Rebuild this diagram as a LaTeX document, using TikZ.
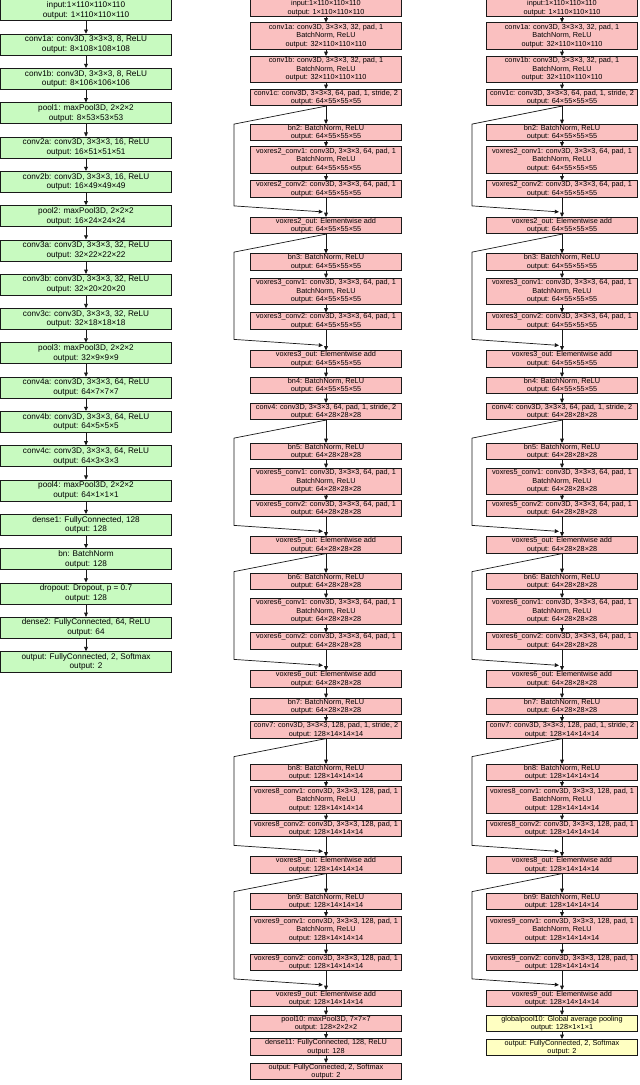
\documentclass[tikz,border=0pt]{standalone}
\usepackage{fontspec}
\setmainfont{Liberation Sans}
\usetikzlibrary{arrows.meta,calc}
\definecolor{gfill}{RGB}{200,250,192}
\definecolor{pfill}{RGB}{250,192,192}
\definecolor{yfill}{RGB}{255,255,194}
\tikzset{
  box/.style={draw=black!90, line width=0.7pt, align=center, inner sep=0pt},
  lbox/.style={box, fill=gfill, minimum width=171pt, minimum height=21pt, font=\fontsize{8.2}{9.7}\selectfont},
  pbox/.style={box, fill=pfill, minimum width=151pt, minimum height=16.5pt, font=\fontsize{7.3}{8.4}\selectfont},
  pboxiii/.style={pbox, minimum height=26.5pt},
  ybox/.style={pbox, fill=yfill},
  arr/.style={-{Triangle[length=4.2pt,width=3.8pt]}, line width=0.7pt, black!90},
}
\newcommand{\skipcon}[3]{%
  \draw[arr] (#1-#2.south) -- ($(#1-#2.south -| #1-sk)+(0,18)$) -- ($(#1-#3.north -| #1-sk)+(0,-11)$) -- ($(#1-#3.north)+(-3,-5)$);}
\newcommand{\resnetcol}[3]{%
  \coordinate (#1-sk) at (#3,0);
  \node[pbox]    (#1-0)  at (#2,8)     {input:1×110×110×110\\output: 1×110×110×110};
  \node[pboxiii] (#1-1)  at (#2,36)    {conv1a: conv3D, 3×3×3, 32, pad, 1\\BatchNorm, ReLU\\output: 32×110×110×110};
  \node[pboxiii] (#1-2)  at (#2,69.5)  {conv1b: conv3D, 3×3×3, 32, pad, 1\\BatchNorm, ReLU\\output: 32×110×110×110};
  \node[pbox]    (#1-3)  at (#2,97.5)  {conv1c: conv3D, 3×3×3, 64, pad, 1, stride, 2\\output: 64×55×55×55};
  \node[pbox]    (#1-4)  at (#2,132.5) {bn2: BatchNorm, ReLU\\output: 64×55×55×55};
  \node[pboxiii] (#1-5)  at (#2,160)   {voxres2\_conv1: conv3D, 3×3×3, 64, pad, 1\\BatchNorm, ReLU\\output: 64×55×55×55};
  \node[pbox]    (#1-6)  at (#2,189)   {voxres2\_conv2: conv3D, 3×3×3, 64, pad, 1\\output: 64×55×55×55};
  \node[pbox]    (#1-7)  at (#2,225.5) {voxres2\_out: Elementwise add\\output: 64×55×55×55};
  \node[pbox]    (#1-8)  at (#2,262)   {bn3: BatchNorm, ReLU\\output: 64×55×55×55};
  \node[pboxiii] (#1-9)  at (#2,291.5) {voxres3\_conv1: conv3D, 3×3×3, 64, pad, 1\\BatchNorm, ReLU\\output: 64×55×55×55};
  \node[pbox]    (#1-10) at (#2,321)   {voxres3\_conv2: conv3D, 3×3×3, 64, pad, 1\\output: 64×55×55×55};
  \node[pbox]    (#1-11) at (#2,359)   {voxres3\_out: Elementwise add\\output: 64×55×55×55};
  \node[pbox]    (#1-12) at (#2,385.5) {bn4: BatchNorm, ReLU\\output: 64×55×55×55};
  \node[pbox]    (#1-13) at (#2,411.5) {conv4: conv3D, 3×3×3, 64, pad, 1, stride, 2\\output: 64×28×28×28};
  \node[pbox]    (#1-14) at (#2,451.5) {bn5: BatchNorm, ReLU\\output: 64×28×28×28};
  \node[pboxiii] (#1-15) at (#2,481.5) {voxres5\_conv1: conv3D, 3×3×3, 64, pad, 1\\BatchNorm, ReLU\\output: 64×28×28×28};
  \node[pbox]    (#1-16) at (#2,508.5) {voxres5\_conv2: conv3D, 3×3×3, 64, pad, 1\\output: 64×28×28×28};
  \node[pbox]    (#1-17) at (#2,545)   {voxres5\_out: Elementwise add\\output: 64×28×28×28};
  \node[pbox]    (#1-18) at (#2,581.5) {bn6: BatchNorm, ReLU\\output: 64×28×28×28};
  \node[pboxiii] (#1-19) at (#2,611.5) {voxres6\_conv1: conv3D, 3×3×3, 64, pad, 1\\BatchNorm, ReLU\\output: 64×28×28×28};
  \node[pbox]    (#1-20) at (#2,641)   {voxres6\_conv2: conv3D, 3×3×3, 64, pad, 1\\output: 64×28×28×28};
  \node[pbox]    (#1-21) at (#2,679)   {voxres6\_out: Elementwise add\\output: 64×28×28×28};
  \node[pbox]    (#1-22) at (#2,706.5) {bn7: BatchNorm, ReLU\\output: 64×28×28×28};
  \node[pbox]    (#1-23) at (#2,730)   {conv7: conv3D, 3×3×3, 128, pad, 1, stride, 2\\output: 128×14×14×14};
  \node[pbox]    (#1-24) at (#2,772.5) {bn8: BatchNorm, ReLU\\output: 128×14×14×14};
  \node[pboxiii] (#1-25) at (#2,800)   {voxres8\_conv1: conv3D, 3×3×3, 128, pad, 1\\BatchNorm, ReLU\\output: 128×14×14×14};
  \node[pbox]    (#1-26) at (#2,828.5) {voxres8\_conv2: conv3D, 3×3×3, 128, pad, 1\\output: 128×14×14×14};
  \node[pbox]    (#1-27) at (#2,865)   {voxres8\_out: Elementwise add\\output: 128×14×14×14};
  \node[pbox]    (#1-28) at (#2,901.5) {bn9: BatchNorm, ReLU\\output: 128×14×14×14};
  \node[pboxiii] (#1-29) at (#2,930)   {voxres9\_conv1: conv3D, 3×3×3, 128, pad, 1\\BatchNorm, ReLU\\output: 128×14×14×14};
  \node[pbox]    (#1-30) at (#2,962.5) {voxres9\_conv2: conv3D, 3×3×3, 128, pad, 1\\output: 128×14×14×14};
  \node[pbox]    (#1-31) at (#2,998.5) {voxres9\_out: Elementwise add\\output: 128×14×14×14};
  \foreach \a [evaluate=\a as \b using int(\a+1)] in {0,...,30}
    \draw[arr] (#1-\a.south) -- (#1-\b.north);
  \skipcon{#1}{3}{7}
  \skipcon{#1}{7}{11}
  \skipcon{#1}{13}{17}
  \skipcon{#1}{17}{21}
  \skipcon{#1}{23}{27}
  \skipcon{#1}{27}{31}
}
\begin{document}
\begin{tikzpicture}[x=1pt,y=-1pt]
\useasboundingbox (0,0) rectangle (640,1085);
% left column
\node[lbox] (l0)  at (86,10.3)  {input:1×110×110×110\\output: 1×110×110×110};
\node[lbox] (l1)  at (86,44.6)  {conv1a: conv3D, 3×3×3, 8, ReLU\\output: 8×108×108×108};
\node[lbox] (l2)  at (86,78.9)  {conv1b: conv3D, 3×3×3, 8, ReLU\\output: 8×106×106×106};
\node[lbox] (l3)  at (86,113.2) {pool1: maxPool3D, 2×2×2\\output: 8×53×53×53};
\node[lbox] (l4)  at (86,147.5) {conv2a: conv3D, 3×3×3, 16, ReLU\\output: 16×51×51×51};
\node[lbox] (l5)  at (86,181.8) {conv2b: conv3D, 3×3×3, 16, ReLU\\output: 16×49×49×49};
\node[lbox] (l6)  at (86,216.1) {pool2: maxPool3D, 2×2×2\\output: 16×24×24×24};
\node[lbox] (l7)  at (86,250.4) {conv3a: conv3D, 3×3×3, 32, ReLU\\output: 32×22×22×22};
\node[lbox] (l8)  at (86,284.7) {conv3b: conv3D, 3×3×3, 32, ReLU\\output: 32×20×20×20};
\node[lbox] (l9)  at (86,319.0) {conv3c: conv3D, 3×3×3, 32, ReLU\\output: 32×18×18×18};
\node[lbox] (l10) at (86,353.3) {pool3: maxPool3D, 2×2×2\\output: 32×9×9×9};
\node[lbox] (l11) at (86,387.6) {conv4a: conv3D, 3×3×3, 64, ReLU\\output: 64×7×7×7};
\node[lbox] (l12) at (86,421.9) {conv4b: conv3D, 3×3×3, 64, ReLU\\output: 64×5×5×5};
\node[lbox] (l13) at (86,456.2) {conv4c: conv3D, 3×3×3, 64, ReLU\\output: 64×3×3×3};
\node[lbox] (l14) at (86,490.5) {pool4: maxPool3D, 2×2×2\\output: 64×1×1×1};
\node[lbox] (l15) at (86,524.8) {dense1: FullyConnected, 128\\output: 128};
\node[lbox] (l16) at (86,559.1) {bn: BatchNorm\\output: 128};
\node[lbox] (l17) at (86,593.4) {dropout: Dropout, p = 0.7\\output: 128};
\node[lbox] (l18) at (86,627.7) {dense2: FullyConnected, 64, ReLU\\output: 64};
\node[lbox] (l19) at (86,662.0) {output: FullyConnected, 2, Softmax\\output: 2};
\foreach \a [evaluate=\a as \b using int(\a+1)] in {0,...,18}
  \draw[arr] (l\a.south) -- (l\b.north);
% middle column
\resnetcol{m}{326}{234}
\node[pbox] (m-32) at (326,1023.5) {pool10: maxPool3D, 7×7×7\\output: 128×2×2×2};
\node[pbox] (m-33) at (326,1047)   {dense11: FullyConnected, 128, ReLU\\output: 128};
\node[pbox] (m-34) at (326,1071.5) {output: FullyConnected, 2, Softmax\\output: 2};
\draw[arr] (m-31.south) -- (m-32.north);
\draw[arr] (m-32.south) -- (m-33.north);
\draw[arr] (m-33.south) -- (m-34.north);
% right column
\resnetcol{r}{562}{472}
\node[ybox] (r-32) at (562,1023.5) {globalpool10: Global average pooling\\output: 128×1×1×1};
\node[ybox] (r-33) at (562,1047.5) {output: FullyConnected, 2, Softmax\\output: 2};
\draw[arr] (r-31.south) -- (r-32.north);
\draw[arr] (r-32.south) -- (r-33.north);
\end{tikzpicture}
\end{document}
